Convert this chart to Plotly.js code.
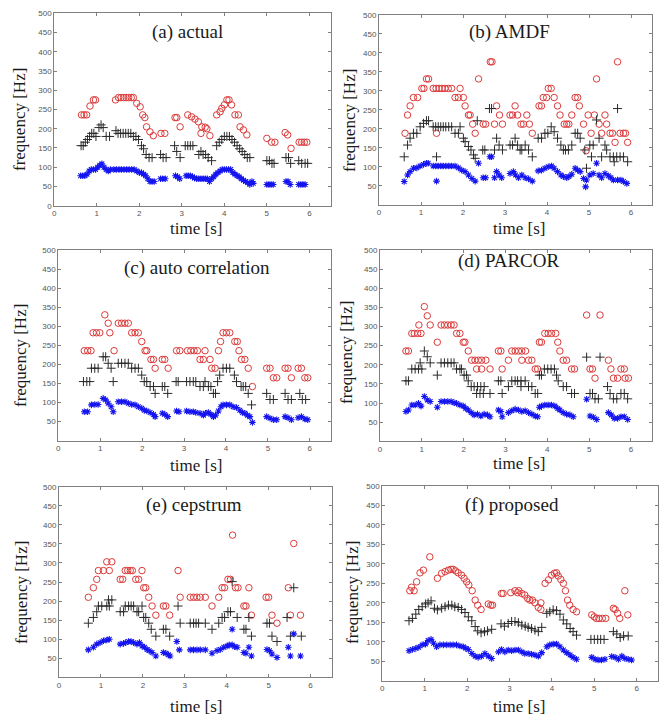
<!DOCTYPE html>
<html>
<head>
<meta charset="utf-8">
<script src="https://cdn.plot.ly/plotly-3.0.1.min.js"></script>
<style>
html,body{margin:0;padding:0;background:#fff}
#chart{width:663px;height:715px}
</style>
</head>
<body>
<div id="chart"></div>
<script>
// Pitch tracks: [time (s), frequency (Hz)] for f0 (blue), 2nd (black) and 3rd (red) harmonic.

// (a) actual
const aRed = [[0.64,236],[0.70,236],[0.76,236],[0.84,259],[0.92,275],[0.97,275],[1.44,275],[1.51,281],[1.57,281],[1.63,281],[1.69,281],[1.75,281],[1.81,281],[1.86,281],[1.94,266],[2.02,257],[2.08,236],[2.13,229],[2.17,205],[2.25,192],[2.33,182],[2.51,188],[2.60,188],[2.84,229],[2.88,229],[2.96,205],[3.14,236],[3.23,231],[3.31,225],[3.39,218],[3.47,205],[3.45,188],[3.55,204],[3.59,200],[3.66,182],[3.82,236],[3.90,244],[3.94,253],[4.00,262],[4.06,275],[4.11,275],[4.17,262],[4.25,236],[4.33,236],[4.37,205],[4.45,197],[4.53,184],[5.00,175],[5.11,165],[5.19,165],[5.43,190],[5.49,184],[5.57,149],[5.76,165],[5.82,165],[5.88,165],[5.94,165]];
const aBlack = [[0.63,156],[0.68,156],[0.73,165],[0.78,172],[0.83,180],[0.88,188],[0.93,188],[0.98,180],[1.05,203],[1.10,210],[1.15,203],[1.22,180],[1.30,180],[1.45,195],[1.50,188],[1.56,188],[1.62,188],[1.68,188],[1.74,188],[1.80,188],[1.86,180],[1.92,180],[1.98,172],[2.05,156],[2.10,148],[2.16,133],[2.23,125],[2.30,125],[2.50,133],[2.56,125],[2.63,125],[2.83,156],[2.88,141],[2.96,125],[3.08,156],[3.14,156],[3.20,156],[3.26,156],[3.40,133],[3.45,141],[3.50,133],[3.56,133],[3.62,125],[3.70,117],[3.82,156],[3.88,165],[3.94,172],[4.00,180],[4.06,180],[4.12,180],[4.18,172],[4.24,165],[4.30,156],[4.36,148],[4.42,141],[4.48,133],[4.54,125],[4.60,125],[5.00,117],[5.06,117],[5.12,110],[5.17,110],[5.45,125],[5.51,125],[5.56,110],[5.75,117],[5.82,110],[5.90,110],[5.96,110]];
const aBlue = [[0.62,78],[0.67,78],[0.72,78],[0.77,82],[0.82,90],[0.87,94],[0.92,94],[0.97,94],[1.02,100],[1.07,105],[1.12,109],[1.17,100],[1.22,94],[1.27,90],[1.32,94],[1.40,94],[1.46,94],[1.52,94],[1.58,94],[1.64,94],[1.70,94],[1.76,94],[1.82,94],[1.88,94],[1.94,90],[2.00,86],[2.05,86],[2.10,82],[2.15,78],[2.20,70],[2.25,63],[2.30,63],[2.35,63],[2.50,70],[2.55,70],[2.61,70],[2.85,78],[2.90,75],[2.95,70],[3.10,78],[3.15,78],[3.20,78],[3.25,75],[3.30,72],[3.35,70],[3.40,70],[3.45,70],[3.50,70],[3.55,70],[3.60,70],[3.65,63],[3.70,70],[3.75,75],[3.80,82],[3.85,86],[3.90,90],[3.95,94],[4.00,94],[4.05,94],[4.10,94],[4.15,94],[4.20,86],[4.25,82],[4.30,78],[4.35,75],[4.40,70],[4.45,66],[4.50,63],[4.55,60],[4.60,55],[4.65,63],[4.68,58],[5.00,55],[5.05,55],[5.10,55],[5.15,55],[5.45,63],[5.50,63],[5.55,55],[5.75,55],[5.80,55],[5.85,55],[5.90,55]];

// (b) AMDF
const bRed = [[0.62,188],[0.68,236],[0.74,260],[0.82,282],[0.92,282],[1.02,306],[1.07,306],[1.13,331],[1.18,331],[1.37,188],[1.29,306],[1.36,306],[1.43,306],[1.50,306],[1.57,306],[1.65,306],[1.73,306],[1.81,282],[1.89,282],[1.93,306],[2.01,282],[2.05,260],[2.13,236],[2.17,236],[2.23,212],[2.29,188],[2.37,331],[2.48,212],[2.54,212],[2.65,376],[2.69,376],[2.75,212],[2.80,260],[2.87,236],[2.94,212],[3.12,236],[3.18,236],[3.24,260],[3.30,236],[3.38,212],[3.44,212],[3.52,236],[3.58,212],[3.65,188],[3.81,260],[3.87,260],[3.91,282],[3.99,282],[4.03,306],[4.10,306],[4.17,282],[4.25,260],[4.31,236],[4.41,212],[4.47,212],[4.52,212],[4.59,236],[4.67,282],[4.73,282],[4.77,260],[4.87,212],[4.93,142],[4.98,236],[5.05,188],[5.13,236],[5.18,331],[5.24,212],[5.30,188],[5.38,236],[5.42,212],[5.50,188],[5.56,188],[5.62,164],[5.68,376],[5.74,188],[5.82,188],[5.87,188],[5.92,164]];
const bBlack = [[0.60,126],[0.68,157],[0.74,175],[0.82,188],[0.90,188],[0.98,205],[1.06,214],[1.13,221],[1.18,221],[1.29,205],[1.35,205],[1.41,205],[1.47,205],[1.53,205],[1.59,205],[1.66,205],[1.73,205],[1.37,126],[1.81,188],[1.89,188],[1.93,205],[2.01,175],[2.05,166],[2.13,153],[2.19,144],[2.25,131],[2.29,122],[2.34,221],[2.47,144],[2.52,144],[2.63,253],[2.68,253],[2.75,144],[2.80,175],[2.86,157],[2.94,144],[3.12,157],[3.18,157],[3.24,175],[3.30,157],[3.36,144],[3.40,144],[3.48,157],[3.56,144],[3.65,126],[3.79,175],[3.87,175],[3.95,188],[4.02,188],[4.10,205],[4.17,192],[4.25,175],[4.33,157],[4.39,144],[4.44,144],[4.51,144],[4.59,157],[4.67,188],[4.73,188],[4.79,175],[4.90,144],[4.94,96],[5.02,157],[5.06,126],[5.10,157],[5.18,223],[5.24,175],[5.30,126],[5.38,157],[5.42,144],[5.50,126],[5.58,126],[5.60,113],[5.66,126],[5.68,253],[5.74,126],[5.82,126],[5.92,113]];
const bBlue = [[0.60,61],[0.68,78],[0.74,87],[0.82,96],[0.90,97],[0.98,102],[1.06,106],[1.13,109],[1.17,109],[1.29,102],[1.35,102],[1.41,102],[1.47,102],[1.53,102],[1.59,102],[1.66,102],[1.73,102],[1.81,102],[1.37,62],[1.89,97],[1.97,91],[2.05,87],[2.13,78],[2.21,69],[2.29,62],[2.37,109],[2.48,71],[2.54,71],[2.64,126],[2.68,126],[2.75,71],[2.80,87],[2.86,78],[2.92,71],[3.12,82],[3.20,87],[3.25,78],[3.32,71],[3.40,78],[3.48,71],[3.56,68],[3.65,62],[3.79,89],[3.87,91],[3.95,96],[4.03,100],[4.11,102],[4.17,96],[4.25,87],[4.33,78],[4.39,74],[4.47,71],[4.52,74],[4.59,80],[4.67,96],[4.73,91],[4.79,87],[4.87,69],[4.92,47],[4.94,65],[5.02,78],[5.10,82],[5.18,109],[5.24,78],[5.30,71],[5.38,82],[5.46,76],[5.52,71],[5.58,65],[5.68,65],[5.76,65],[5.82,61],[5.90,56]];

// (c) auto correlation
const cRed = [[0.62,236],[0.70,236],[0.78,236],[0.83,283],[0.91,283],[0.99,283],[1.11,330],[1.19,308],[1.23,283],[1.33,236],[1.43,308],[1.51,308],[1.59,308],[1.67,308],[1.75,283],[1.83,283],[1.91,283],[1.99,260],[2.07,236],[2.11,236],[2.21,213],[2.27,213],[2.31,190],[2.48,213],[2.54,213],[2.62,190],[2.82,236],[2.90,236],[3.08,236],[3.16,236],[3.24,236],[3.32,236],[3.38,213],[3.46,213],[3.50,236],[3.62,213],[3.66,190],[3.74,190],[3.82,236],[3.87,260],[3.93,283],[4.01,283],[4.09,283],[4.21,260],[4.27,260],[4.31,236],[4.37,213],[4.45,213],[4.53,190],[4.63,142],[4.97,190],[5.05,190],[5.13,165],[5.21,165],[5.41,190],[5.48,190],[5.56,165],[5.72,190],[5.80,190],[5.88,165],[5.95,165]];
const cBlack = [[0.60,155],[0.68,155],[0.75,155],[0.79,190],[0.87,190],[0.95,190],[1.07,220],[1.13,220],[1.19,203],[1.26,190],[1.31,155],[1.43,203],[1.51,203],[1.59,203],[1.67,203],[1.75,190],[1.83,190],[1.91,190],[1.99,172],[2.05,155],[2.11,155],[2.19,142],[2.27,142],[2.31,124],[2.48,142],[2.54,142],[2.61,124],[2.81,155],[2.86,155],[3.06,155],[3.14,155],[3.22,155],[3.28,155],[3.38,142],[3.46,142],[3.50,155],[3.58,142],[3.64,142],[3.70,124],[3.75,124],[3.80,155],[3.85,172],[3.93,190],[4.01,190],[4.09,190],[4.20,172],[4.25,155],[4.36,142],[4.41,142],[4.47,142],[4.53,124],[4.61,94],[4.97,124],[5.05,108],[5.13,108],[5.41,124],[5.48,108],[5.56,108],[5.76,124],[5.82,108],[5.90,108]];
const cBlue = [[0.62,76],[0.70,76],[0.79,94],[0.87,95],[0.95,95],[1.07,111],[1.13,107],[1.19,98],[1.26,89],[1.31,76],[1.43,102],[1.51,102],[1.59,102],[1.67,98],[1.75,95],[1.83,94],[1.91,89],[1.99,85],[2.05,80],[2.11,78],[2.19,74],[2.27,69],[2.31,63],[2.48,72],[2.54,69],[2.61,63],[2.82,78],[2.88,76],[3.06,78],[3.14,76],[3.22,76],[3.28,74],[3.38,72],[3.46,67],[3.51,72],[3.58,74],[3.64,69],[3.70,63],[3.75,67],[3.82,78],[3.88,89],[3.93,94],[4.01,94],[4.09,94],[4.17,89],[4.25,87],[4.33,80],[4.39,74],[4.45,72],[4.51,67],[4.57,63],[4.63,48],[4.97,63],[5.05,59],[5.13,55],[5.21,55],[5.41,63],[5.48,60],[5.56,55],[5.72,60],[5.80,63],[5.88,57],[5.95,55]];

// (d) PARCOR
const dRed = [[0.62,236],[0.68,236],[0.76,282],[0.82,282],[0.90,282],[0.98,282],[0.93,304],[1.06,352],[1.13,328],[1.20,304],[1.37,259],[1.46,304],[1.54,304],[1.62,304],[1.70,304],[1.77,304],[1.83,282],[1.91,282],[1.99,259],[2.03,259],[2.11,236],[2.19,212],[2.27,212],[2.35,212],[2.43,212],[2.53,212],[2.31,189],[2.43,189],[2.63,189],[2.83,236],[2.89,236],[2.92,189],[3.07,212],[3.15,236],[3.23,236],[3.31,236],[3.39,236],[3.48,236],[3.39,212],[3.55,212],[3.63,212],[3.71,189],[3.77,189],[3.81,259],[3.86,259],[3.94,282],[4.02,282],[4.10,282],[4.20,282],[4.25,259],[4.30,236],[4.38,212],[4.46,212],[4.58,189],[4.65,189],[4.94,330],[5.02,189],[5.08,189],[5.14,165],[5.26,330],[5.46,212],[5.52,189],[5.58,165],[5.68,165],[5.76,189],[5.84,189],[5.86,165],[5.94,165]];
const dBlack = [[0.62,158],[0.68,158],[0.76,189],[0.84,189],[0.92,189],[1.00,189],[0.96,205],[1.06,236],[1.13,221],[1.20,205],[1.37,173],[1.46,205],[1.54,205],[1.62,205],[1.70,205],[1.77,205],[1.83,189],[1.91,189],[1.95,189],[2.01,173],[2.07,173],[2.11,158],[2.18,143],[2.25,143],[2.33,143],[2.41,143],[2.49,143],[2.31,125],[2.39,125],[2.47,125],[2.63,125],[2.83,158],[2.89,158],[2.92,125],[3.07,143],[3.15,158],[3.23,158],[3.29,158],[3.37,158],[3.47,158],[3.37,143],[3.55,143],[3.63,143],[3.71,125],[3.77,125],[3.81,173],[3.86,173],[3.93,189],[4.01,189],[4.09,189],[4.17,189],[4.22,173],[4.26,158],[4.38,143],[4.46,143],[4.58,125],[4.65,125],[4.94,220],[5.02,125],[5.08,125],[5.14,111],[5.22,111],[5.26,220],[5.44,143],[5.50,125],[5.58,111],[5.66,111],[5.76,125],[5.84,125],[5.92,111]];
const dBlue = [[0.62,78],[0.68,82],[0.76,95],[0.84,95],[0.92,99],[0.98,92],[1.06,117],[1.13,108],[1.20,104],[1.37,89],[1.46,104],[1.54,104],[1.62,104],[1.70,104],[1.77,101],[1.83,99],[1.91,95],[1.99,92],[2.05,86],[2.11,82],[2.18,75],[2.25,69],[2.33,71],[2.41,66],[2.49,71],[2.57,69],[2.63,64],[2.83,82],[2.89,78],[2.92,64],[3.07,75],[3.15,80],[3.23,84],[3.31,82],[3.39,78],[3.47,80],[3.55,75],[3.63,71],[3.71,66],[3.77,64],[3.81,89],[3.86,92],[3.94,95],[4.02,95],[4.10,95],[4.18,92],[4.25,86],[4.30,82],[4.38,75],[4.46,71],[4.54,69],[4.62,64],[4.94,110],[5.02,66],[5.10,63],[5.18,57],[5.46,75],[5.53,69],[5.60,60],[5.68,60],[5.76,64],[5.84,64],[5.92,57]];

// (e) cepstrum
const eRed = [[0.70,210],[0.82,235],[0.90,257],[0.94,280],[1.06,280],[1.14,303],[1.20,280],[1.26,303],[1.46,257],[1.52,257],[1.58,280],[1.64,280],[1.70,280],[1.75,280],[1.83,257],[1.90,257],[1.98,280],[2.02,235],[2.07,235],[2.14,210],[2.22,187],[2.31,163],[2.49,187],[2.55,187],[2.64,163],[2.84,280],[2.89,210],[3.13,210],[3.21,210],[3.29,210],[3.37,210],[3.49,210],[3.65,187],[3.81,210],[3.89,235],[3.95,235],[4.03,257],[4.09,257],[4.14,373],[4.21,235],[4.27,235],[4.41,187],[4.46,187],[4.53,235],[4.59,163],[4.94,210],[5.00,210],[5.08,163],[5.20,142],[5.47,235],[5.52,163],[5.60,351],[5.76,163]];
const eBlack = [[0.70,142],[0.82,157],[0.90,172],[0.94,187],[1.02,187],[1.14,187],[1.18,203],[1.26,203],[1.20,187],[1.46,172],[1.54,172],[1.58,187],[1.66,187],[1.72,187],[1.78,187],[1.86,172],[1.90,172],[1.98,187],[2.02,157],[2.07,157],[2.14,142],[2.20,126],[2.31,108],[2.49,126],[2.55,126],[2.64,108],[2.84,187],[2.89,142],[3.13,142],[3.21,142],[3.27,142],[3.33,142],[3.49,142],[3.65,126],[3.81,142],[3.89,157],[3.95,157],[4.03,172],[4.09,172],[4.13,251],[4.25,157],[4.41,126],[4.46,126],[4.53,157],[4.59,108],[4.96,142],[5.02,142],[5.08,108],[5.20,94],[5.44,157],[5.52,108],[5.60,235],[5.78,108]];
const eBlue = [[0.70,72],[0.82,79],[0.90,87],[0.98,91],[1.06,96],[1.14,98],[1.20,100],[1.46,87],[1.54,89],[1.59,91],[1.66,94],[1.72,94],[1.78,91],[1.86,87],[1.92,91],[1.98,82],[2.04,79],[2.10,73],[2.15,70],[2.22,65],[2.31,56],[2.49,65],[2.55,63],[2.61,59],[2.65,56],[2.81,94],[2.87,72],[3.13,72],[3.21,72],[3.29,72],[3.37,72],[3.49,72],[3.65,63],[3.77,70],[3.85,73],[3.93,79],[4.01,82],[4.06,85],[4.13,85],[4.19,80],[4.25,79],[4.13,126],[4.41,65],[4.46,63],[4.53,79],[4.59,56],[4.96,73],[5.02,70],[5.08,61],[5.20,52],[5.47,79],[5.52,56],[5.60,114],[5.76,56]];

// (f) proposed
const fRed = [[0.65,231],[0.69,240],[0.75,231],[0.81,254],[0.89,277],[0.97,284],[1.12,318],[1.30,263],[1.40,276],[1.48,280],[1.56,284],[1.62,286],[1.67,286],[1.73,282],[1.79,277],[1.87,271],[1.93,263],[1.99,254],[2.04,246],[2.12,231],[2.19,207],[2.25,194],[2.33,183],[2.50,197],[2.56,194],[2.60,194],[2.81,224],[2.85,224],[3.03,226],[3.13,231],[3.19,226],[3.22,231],[3.29,224],[3.36,220],[3.43,211],[3.48,207],[3.54,207],[3.60,200],[3.68,188],[3.74,183],[3.74,200],[3.84,250],[3.92,259],[3.99,271],[4.06,276],[4.11,277],[4.15,269],[4.21,260],[4.27,250],[4.32,231],[4.37,207],[4.42,194],[4.50,183],[4.58,177],[4.94,169],[5.00,164],[5.05,160],[5.11,160],[5.19,160],[5.27,160],[5.45,186],[5.49,183],[5.55,173],[5.60,160],[5.72,231],[5.79,169]];
const fBlack = [[0.63,154],[0.71,160],[0.79,171],[0.86,183],[0.94,190],[1.02,197],[1.08,200],[1.15,205],[1.23,186],[1.30,182],[1.40,186],[1.48,190],[1.56,194],[1.64,194],[1.71,190],[1.79,188],[1.87,183],[1.95,175],[2.03,164],[2.11,154],[2.19,139],[2.25,128],[2.33,123],[2.41,126],[2.48,128],[2.58,132],[2.80,146],[2.88,140],[2.97,147],[3.05,152],[3.13,152],[3.21,149],[3.29,143],[3.37,140],[3.44,137],[3.52,134],[3.60,130],[3.68,126],[3.76,137],[3.88,173],[3.95,177],[4.03,182],[4.11,180],[4.19,171],[4.27,156],[4.35,146],[4.43,134],[4.50,126],[4.58,117],[4.92,106],[5.00,106],[5.08,106],[5.15,106],[5.23,106],[5.45,126],[5.53,120],[5.61,111],[5.69,115],[5.80,115]];
const fBlue = [[0.63,77],[0.71,80],[0.79,83],[0.86,86],[0.94,92],[1.02,94],[1.08,103],[1.15,106],[1.21,96],[1.28,87],[1.36,92],[1.44,92],[1.52,92],[1.60,92],[1.67,92],[1.75,92],[1.83,89],[1.91,87],[1.97,83],[2.03,80],[2.11,70],[2.19,63],[2.26,60],[2.34,63],[2.42,70],[2.50,63],[2.58,57],[2.74,74],[2.81,80],[2.89,74],[2.97,79],[3.05,77],[3.13,79],[3.21,79],[3.29,74],[3.36,70],[3.44,70],[3.52,68],[3.60,66],[3.68,63],[3.76,72],[3.88,87],[3.95,92],[4.03,94],[4.11,94],[4.19,87],[4.27,79],[4.35,72],[4.43,66],[4.50,60],[4.58,55],[4.94,60],[5.02,55],[5.09,53],[5.17,53],[5.25,55],[5.41,62],[5.49,60],[5.57,55],[5.65,63],[5.72,57],[5.80,55],[5.88,53]];

const panelTitles = ['(a) actual', '(b) AMDF', '(c) auto correlation', '(d) PARCOR', '(e) cepstrum', '(f) proposed'];
const panelData = [
  [aRed, aBlack, aBlue], [bRed, bBlack, bBlue], [cRed, cBlack, cBlue],
  [dRed, dBlack, dBlue], [eRed, eBlack, eBlue], [fRed, fBlack, fBlue]
];
const timeTicks = [0, 1, 2, 3, 4, 5, 6];
const freqTicksFull = [0, 50, 100, 150, 200, 250, 300, 350, 400, 450, 500];
const freqTicks = [50, 100, 150, 200, 250, 300, 350, 400, 450, 500];

// Page geometry (pixels): axes boxes [left, right, top, bottom]
const W = 663, H = 715;
const boxes = [
  [54.3, 330.6, 13.3, 205.7],
  [379.0, 652.0, 14.7, 204.7],
  [58.3, 330.8, 250.0, 440.7],
  [380.0, 651.9, 250.0, 441.3],
  [59.0, 331.5, 486.7, 677.3],
  [382.3, 657.9, 486.0, 680.7]
];
const titlePos = [[187, 32], [509, 32], [197, 268], [509, 261], [194, 505], [512, 505]];
const yLabelPos = [[20, 120], [349, 121], [21, 356], [346, 353], [21, 593], [352, 593]];
const xLabelPos = [[196, 228], [519, 228], [196, 465], [519, 463], [196, 706], [519, 706]];

const styles = [
  {symbol: 'circle-open', color: '#dc3a3a', size: 6.5, width: 1},
  {symbol: 'cross-thin-open', color: '#2a2a2a', size: 6.5, width: 1},
  {symbol: 'asterisk-open', color: '#1414f0', size: 5.5, width: 1.1}
];

const traces = [];
const layout = {
  width: W, height: H,
  margin: {l: 0, r: 0, t: 0, b: 0},
  paper_bgcolor: '#fff', plot_bgcolor: '#fff',
  showlegend: false,
  annotations: []
};

const px = x => x / W;
const py = y => 1 - y / H;
const serif = 'Liberation Serif, Times New Roman, serif';

panelData.forEach((series, i) => {
  const n = i === 0 ? '' : String(i + 1);
  const b = boxes[i];
  series.forEach((pts, k) => {
    const s = styles[k];
    traces.push({
      type: 'scatter', mode: 'markers',
      x: pts.map(p => p[0]), y: pts.map(p => p[1]),
      xaxis: 'x' + n, yaxis: 'y' + n,
      marker: {symbol: s.symbol, size: s.size, color: s.color, line: {color: s.color, width: s.width}},
      hoverinfo: 'skip'
    });
  });
  const common = {
    showline: true, linecolor: '#808080', linewidth: 1,
    mirror: 'allticks', ticks: 'inside', ticklen: 3, tickcolor: '#808080',
    showgrid: false, zeroline: false, fixedrange: true,
    tickfont: {family: 'Liberation Sans, Arial, sans-serif', size: 8, color: '#555'}
  };
  layout['xaxis' + n] = Object.assign({}, common, {
    domain: [px(b[0]), px(b[1])], range: [0, 6.5],
    tickmode: 'array', tickvals: timeTicks, anchor: 'y' + n
  });
  layout['yaxis' + n] = Object.assign({}, common, {
    domain: [py(b[3]), py(b[2])], range: [0, 500],
    tickmode: 'array', tickvals: i === 0 ? freqTicksFull : freqTicks, anchor: 'x' + n
  });
  layout.annotations.push({
    text: panelTitles[i], xref: 'paper', yref: 'paper',
    x: px(titlePos[i][0]), y: py(titlePos[i][1]), xanchor: 'center', yanchor: 'middle',
    showarrow: false, font: {family: serif, size: 19, color: '#1a1a1a'}
  });
  layout.annotations.push({
    text: 'frequency [Hz]', xref: 'paper', yref: 'paper', textangle: -90,
    x: px(yLabelPos[i][0]), y: py(yLabelPos[i][1]), xanchor: 'center', yanchor: 'middle',
    showarrow: false, font: {family: serif, size: 17, color: '#1a1a1a'}
  });
  layout.annotations.push({
    text: 'time [s]', xref: 'paper', yref: 'paper',
    x: px(xLabelPos[i][0]), y: py(xLabelPos[i][1]), xanchor: 'center', yanchor: 'middle',
    showarrow: false, font: {family: serif, size: 17, color: '#1a1a1a'}
  });
});

Plotly.newPlot('chart', traces, layout, {staticPlot: true, displayModeBar: false});
</script>
</body>
</html>
